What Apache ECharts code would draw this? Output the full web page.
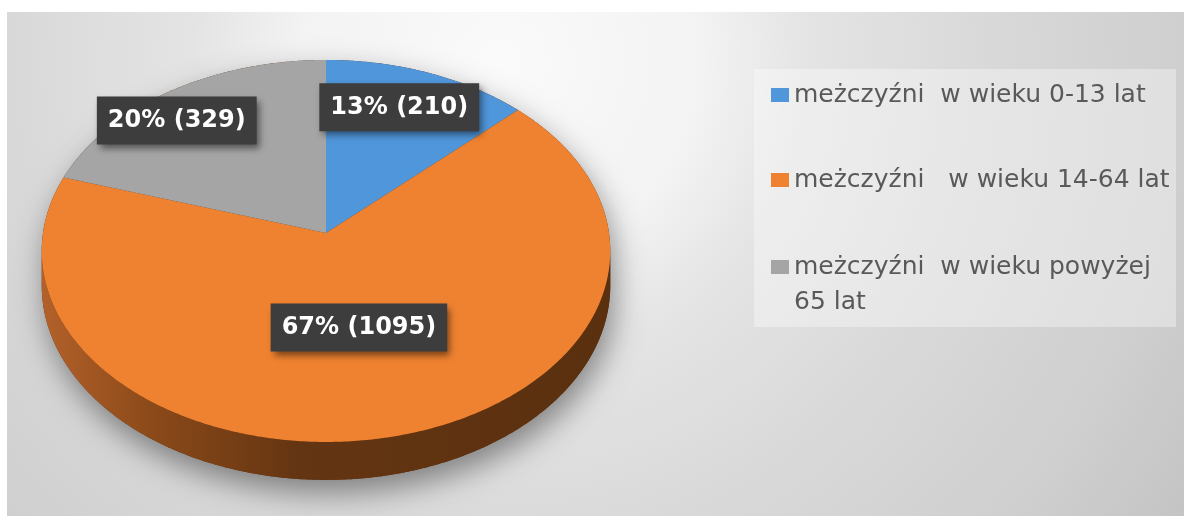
<!DOCTYPE html>
<html>
<head>
<meta charset="utf-8">
<script src="https://cdn.jsdelivr.net/npm/echarts@6/dist/echarts.min.js"></script>
<style>
html, body { margin: 0; padding: 0; background: #fff; }
#chart { width: 1184px; height: 516px; }
</style>
</head>
<body>
<div id="chart"></div>
<script>
var groupNames = ['meżczyźni  w wieku 0-13 lat', 'meżczyźni   w wieku 14-64 lat', 'meżczyźni  w wieku powyżej 65 lat'];
var groupValues = [210, 1095, 329];
var groupColors = ['#5096da', '#ef8230', '#a5a5a5'];

// tilted pie geometry (pixels)
var CX = 326, CY = 233, RX = 283, RY = 189.3, PERSP = 0.094, DEPTH = 34.4;
var SIDE_A = Math.acos(-PERSP), SIDE_B = 2 * Math.PI - SIDE_A;
var labelRadius = [0.77, 0.49, 0.78];
var labelShiftX = [-7, 0, -26];

var total = groupValues.reduce(function (a, b) { return a + b; }, 0);

// theta: clockwise from 12 o'clock
function project(f, theta, drop) {
    var u = f * Math.sin(theta), w = f * Math.cos(theta);
    var s = 1 / (1 + PERSP * w);
    return [CX + RX * u * s, CY - RY * w * s + (drop || 0) * s];
}
function arcPoints(a0, a1, drop) {
    var pts = [], n = Math.max(2, Math.ceil((a1 - a0) / 0.01));
    for (var i = 0; i <= n; i++) pts.push(project(1, a0 + (a1 - a0) * i / n, drop));
    return pts;
}

function sliceRenderer(idx) {
    return function (params, api) {
        var before = 0;
        for (var i = 0; i < idx; i++) before += groupValues[i];
        var val = api.value(0);
        var a0 = before / total * 2 * Math.PI;
        var a1 = (before + val) / total * 2 * Math.PI;
        var children = [];
        if (idx === 0) {
            // whole pie outline, only for the drop shadow
            var sil = arcPoints(SIDE_B - 2 * Math.PI, SIDE_A, 0).concat(arcPoints(SIDE_A, SIDE_B, DEPTH));
            children.push({
                type: 'polygon',
                shape: { points: sil },
                style: { fill: '#5e3311', shadowBlur: 30, shadowOffsetX: 4, shadowOffsetY: 13, shadowColor: 'rgba(0,0,0,0.42)' }
            });
        }
        var s0 = Math.max(a0, SIDE_A), s1 = Math.min(a1, SIDE_B);
        if (s1 > s0) {
            var side = arcPoints(s0, s1, 0).concat(arcPoints(s0, s1, DEPTH).reverse());
            children.push({
                type: 'polygon',
                shape: { points: side },
                style: {
                    fill: new echarts.graphic.LinearGradient(1, 0, 0, 0, [
                        { offset: 0, color: '#5a300f' },
                        { offset: 0.55, color: '#643512' },
                        { offset: 0.8, color: '#8a4919' },
                        { offset: 1, color: '#b3612a' }
                    ])
                }
            });
        }
        children.push({
            type: 'polygon',
            shape: { points: [[CX, CY]].concat(arcPoints(a0, a1, 0)) },
            style: { fill: api.visual('color') }
        });
        var p = project(labelRadius[idx], (a0 + a1) / 2, 0);
        children.push({
            type: 'text',
            z2: 100,
            style: {
                text: Math.round(val / total * 100) + '% (' + val + ')',
                x: p[0] + labelShiftX[idx],
                y: p[1],
                align: 'center',
                verticalAlign: 'middle',
                fill: '#ffffff',
                font: 'bold 24px "DejaVu Sans"',
                backgroundColor: '#3d3d3d',
                padding: [12, 11, 12, 11],
                shadowBlur: 7,
                shadowOffsetX: 3,
                shadowOffsetY: 4,
                shadowColor: 'rgba(0,0,0,0.5)'
            }
        });
        return { type: 'group', children: children };
    };
}

var legendText = { fontFamily: 'DejaVu Sans', fontSize: 25, color: '#595959', lineHeight: 35 };

var chart = echarts.init(document.getElementById('chart'));
chart.setOption({
    animation: false,
    graphic: [
        {
            type: 'rect',
            shape: { x: 7, y: 12, width: 1177, height: 504 },
            style: {
                fill: new echarts.graphic.RadialGradient(0.42, 0.1, 1.65, [
                    { offset: 0, color: '#fafafa' },
                    { offset: 0.24, color: '#f3f3f3' },
                    { offset: 0.37, color: '#e4e4e4' },
                    { offset: 0.6, color: '#d8d8d8' },
                    { offset: 0.82, color: '#cfcfcf' },
                    { offset: 1, color: '#c3c3c3' }
                ])
            }
        },
        {
            type: 'rect',
            shape: { x: 754, y: 69, width: 422, height: 258 },
            style: { fill: 'rgba(255,255,255,0.35)' }
        }
    ],
    legend: [
        {
            data: [groupNames[0], groupNames[1]],
            orient: 'vertical',
            left: 771,
            top: 77.5,
            padding: 0,
            itemGap: 50,
            itemWidth: 18,
            itemHeight: 14,
            icon: 'rect',
            textStyle: legendText
        },
        {
            data: [groupNames[2]],
            orient: 'vertical',
            left: 771,
            top: 214.5,
            padding: 0,
            itemWidth: 18,
            itemHeight: 14,
            icon: 'rect',
            // blank first line keeps the marker beside the first text line
            formatter: function (name) { return ' \n' + name.replace(' 65 lat', '\n65 lat'); },
            textStyle: legendText
        }
    ],
    series: groupNames.map(function (name, i) {
        return {
            type: 'custom',
            name: name,
            coordinateSystem: 'none',
            itemStyle: { color: groupColors[i] },
            data: [groupValues[i]],
            renderItem: sliceRenderer(i)
        };
    })
});
</script>
</body>
</html>
